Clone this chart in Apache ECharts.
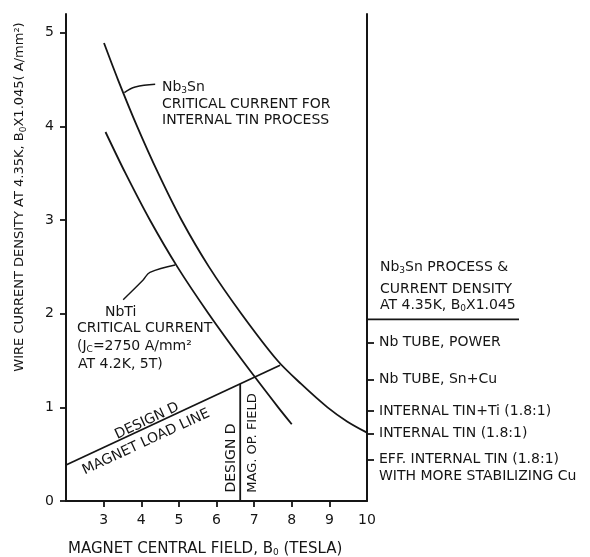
<!DOCTYPE html>
<html>
<head>
<meta charset="utf-8">
<script src="https://cdn.jsdelivr.net/npm/echarts@6/dist/echarts.min.js"></script>
<style>
html,body{margin:0;padding:0;background:#fff;}
#main{width:590px;height:557px;}
</style>
</head>
<body>
<div id="main"></div>
<script>
// ---- data ----
const fieldTicks = [3, 4, 5, 6, 7, 8, 9];
const fieldLabels = [3, 4, 5, 6, 7, 8, 9, 10];
const densityTicks = [0, 1, 2, 3, 4, 5];

const nb3snX = [3.01, 3.38, 3.89, 4.45, 5.07, 5.80, 6.66, 7.62, 8.25, 8.95, 9.47, 10.0];
const nb3snY = [4.89, 4.50, 4.00, 3.50, 3.00, 2.50, 2.00, 1.50, 1.25, 1.00, 0.85, 0.73];

const nbtiX = [3.05, 3.58, 4.23, 4.96, 5.79, 6.69, 7.64, 8.0];
const nbtiY = [3.94, 3.50, 3.00, 2.50, 2.00, 1.50, 1.00, 0.82];

const loadLineX = [2.0, 7.69];
const loadLineY = [0.385, 1.45];

const opFieldX = [6.63, 6.63];
const opFieldY = [0, 1.25];

const processLineX = [10, 14];
const processLineY = [1.94, 1.94];

const nb3snLeaderX = [3.55, 3.84, 4.37];
const nb3snLeaderY = [4.36, 4.42, 4.45];

const nbtiLeaderX = [3.52, 4.05, 4.23, 4.90];
const nbtiLeaderY = [2.15, 2.36, 2.44, 2.52];

const processValues = [1.69, 1.30, 0.96, 0.72, 0.44];
const processNames = [
  'Nb TUBE, POWER',
  'Nb TUBE, Sn+Cu',
  'INTERNAL TIN+Ti (1.8:1)',
  'INTERNAL TIN (1.8:1)',
  'EFF. INTERNAL TIN (1.8:1)'
];
const processNote = 'WITH MORE STABILIZING Cu';

// ---- chart ----
const FONT = '"DejaVu Sans", sans-serif';
const INK = '#151515';
const zip = (xs, ys) => xs.map((x, i) => [x, ys[i]]);
const subRich = {
  sub: { fontSize: 9, fontFamily: FONT, fill: INK, color: INK, padding: [7, 0, 0, 0] }
};

function lineSeries(xs, ys, opts) {
  return Object.assign({
    type: 'line',
    data: zip(xs, ys),
    symbol: 'none',
    silent: true,
    lineStyle: { color: INK, width: 1.8 },
    itemStyle: { color: INK }
  }, opts || {});
}

function txt(text, x, y, opts) {
  const o = opts || {};
  return {
    type: 'text',
    x: x, y: y,
    rotation: o.rotation || 0,
    silent: true,
    style: {
      text: text,
      x: 0, y: 0,
      fontFamily: FONT,
      fontSize: o.size || 14,
      fill: INK,
      align: o.align || 'left',
      verticalAlign: 'middle',
      rich: subRich
    }
  };
}

const chart = echarts.init(document.getElementById('main'), null, { renderer: 'canvas' });

const option = {
  animation: false,
  backgroundColor: '#fff',
  grid: [
    { left: 66, right: 223, top: 14, bottom: 56, containLabel: false },
    { left: 367, right: 71, top: 14, bottom: 56, containLabel: false, show: false }
  ],
  xAxis: [
    {
      type: 'value', gridIndex: 0,
      min: 2, max: 10, interval: 1,
      splitLine: { show: false },
      axisLine: { show: true, lineStyle: { color: INK, width: 2 } },
      axisTick: { show: true, inside: false, length: 6, customValues: fieldTicks, lineStyle: { color: INK, width: 1.8 } },
      axisLabel: { show: true, customValues: fieldLabels, margin: 12, fontFamily: FONT, fontSize: 14, color: INK }
    },
    {
      type: 'value', gridIndex: 1, min: 10, max: 14, show: false
    }
  ],
  yAxis: [
    {
      type: 'value', gridIndex: 0,
      min: 0, max: 5.2, interval: 1,
      splitLine: { show: false },
      axisLine: { show: true, lineStyle: { color: INK, width: 2 } },
      axisTick: { show: true, inside: false, length: 6, customValues: densityTicks, lineStyle: { color: INK, width: 1.8 } },
      axisLabel: { show: true, customValues: densityTicks, margin: 12, fontFamily: FONT, fontSize: 14, color: INK }
    },
    {
      type: 'value', gridIndex: 0,
      position: 'right',
      min: 0, max: 5.2,
      splitLine: { show: false },
      axisLine: { show: true, lineStyle: { color: INK, width: 2 } },
      axisTick: { show: true, inside: false, length: 7, customValues: processValues, lineStyle: { color: INK, width: 1.8 } },
      axisLabel: {
        show: true, customValues: processValues, margin: 12, hideOverlap: false,
        fontFamily: FONT, fontSize: 14, color: INK, align: 'left',
        formatter: function (v) {
          for (let i = 0; i < processValues.length; i++) {
            if (Math.abs(processValues[i] - v) < 1e-6) return processNames[i];
          }
          return '';
        }
      }
    },
    {
      type: 'value', gridIndex: 1, min: 0, max: 5.2, show: false
    }
  ],
  series: [
    lineSeries(nb3snX, nb3snY, { smooth: 0.3 }),
    lineSeries(nbtiX, nbtiY, { smooth: 0.3 }),
    lineSeries(loadLineX, loadLineY),
    lineSeries(opFieldX, opFieldY),
    lineSeries(processLineX, processLineY, { xAxisIndex: 1, yAxisIndex: 2 }),
    lineSeries(nb3snLeaderX, nb3snLeaderY, { smooth: 0.4, lineStyle: { color: INK, width: 1.4 } }),
    lineSeries(nbtiLeaderX, nbtiLeaderY, { smooth: 0.4, lineStyle: { color: INK, width: 1.4 } })
  ],
  graphic: [
    txt('WIRE CURRENT DENSITY AT 4.35K, B{sub|0}X1.045( A/mm²)', 20, 197, { rotation: Math.PI / 2, align: 'center', size: 13 }),
    txt('MAGNET CENTRAL FIELD, B{sub|0} (TESLA)', 68, 549, { size: 15 }),
    txt('Nb{sub|3}Sn', 162, 87),
    txt('CRITICAL CURRENT FOR', 162, 104),
    txt('INTERNAL TIN PROCESS', 162, 120),
    txt('NbTi', 105, 312),
    txt('CRITICAL CURRENT', 77, 328),
    txt('(J{sub|C}=2750 A/mm²', 77, 346),
    txt('AT 4.2K, 5T)', 78, 364),
    txt('DESIGN D', 147, 421, { rotation: 25 * Math.PI / 180, align: 'center' }),
    txt('MAGNET LOAD LINE', 146, 442, { rotation: 25 * Math.PI / 180, align: 'center' }),
    txt('DESIGN D', 231, 458, { rotation: Math.PI / 2, align: 'center' }),
    txt('MAG. OP. FIELD', 253, 443, { rotation: Math.PI / 2, align: 'center', size: 13 }),
    txt('Nb{sub|3}Sn PROCESS &', 380, 267),
    txt('CURRENT DENSITY', 380, 289),
    txt('AT 4.35K, B{sub|0}X1.045', 380, 305),
    txt(processNote, 379, 476)
  ]
};

chart.setOption(option);
</script>
</body>
</html>
